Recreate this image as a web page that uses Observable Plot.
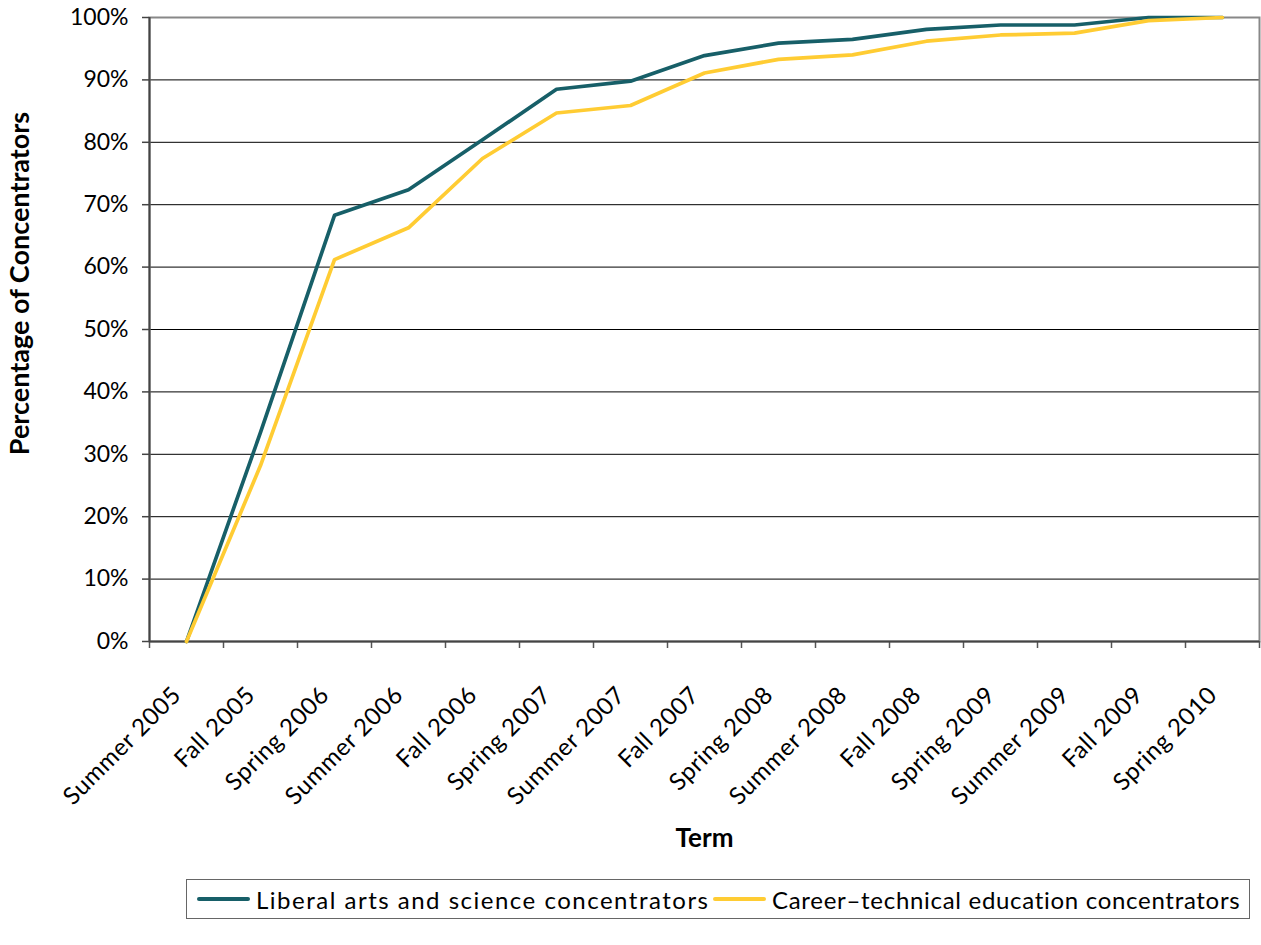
<!DOCTYPE html>
<html><head><meta charset="utf-8">
<script src="https://cdn.jsdelivr.net/npm/d3@7"></script>
<script src="https://cdn.jsdelivr.net/npm/@observablehq/plot@0.6"></script>
<style>
body{margin:0;background:#fff;font-family:Lato,"Open Sans",sans-serif;}
#wrap{position:relative;width:1261px;height:945px;overflow:hidden;}
#legend{position:absolute;left:186px;top:879px;width:1064px;height:40px;border:1px solid #666;box-sizing:border-box;font-size:24px;color:#000;}
.item{position:absolute;top:0;height:38px;display:flex;align-items:center;white-space:nowrap;}
.swatch{display:inline-block;width:53px;height:4px;border-radius:2px;margin-right:6px;}
</style></head><body>
<div id="wrap"><div id="chart"></div><div id="legend"></div></div>
<script>
const terms = ["Summer 2005","Fall 2005","Spring 2006","Summer 2006","Fall 2006","Spring 2007","Summer 2007","Fall 2007","Spring 2008","Summer 2008","Fall 2008","Spring 2009","Summer 2009","Fall 2009","Spring 2010"];
const liberalArts = [0, 33.5, 68.3, 72.4, 80.4, 88.5, 89.8, 93.9, 95.9, 96.5, 98.1, 98.8, 98.8, 100, 100];
const careerTech  = [0, 28.2, 61.2, 66.3, 77.4, 84.7, 85.9, 91.1, 93.3, 94.0, 96.2, 97.2, 97.5, 99.5, 100];
const seriesNames = ["Liberal arts and science concentrators", "Career\u2013technical education concentrators"];
const seriesColors = ["#175F68", "#FFCC33"];
const yTicks = [0,10,20,30,40,50,60,70,80,90,100];

const libData = terms.map((t,i)=>({term:t, idx:i, series:seriesNames[0], value:liberalArts[i]}));
const cteData = terms.map((t,i)=>({term:t, idx:i, series:seriesNames[1], value:careerTech[i]}));
const boundaries = d3.range(terms.length + 1);

const chart = Plot.plot({
  width: 1261, height: 870,
  marginLeft: 149, marginRight: 2, marginTop: 17, marginBottom: 229,
  style: {fontFamily: "Lato, 'Open Sans', sans-serif", fontSize: "23px", color: "#000", background: "#fff"},
  x: {type: "linear", domain: [0, terms.length]},
  y: {domain: [0, 100]},
  color: {domain: seriesNames, range: seriesColors},
  marks: [
    Plot.gridY(yTicks, {stroke: "#000", strokeOpacity: 1, strokeWidth: 1}),
    Plot.frame({stroke: "#888", strokeWidth: 2}),
    Plot.axisY(yTicks, {tickSize: 7, tickPadding: 14, tickFormat: d => d + "%", fontSize: 23, label: null, stroke: "#444", strokeWidth: 1.5}),
    Plot.axisX(boundaries, {tickSize: 7, tickFormat: () => "", label: null, stroke: "#555", strokeWidth: 1.5}),
    Plot.ruleX([0], {stroke: "#444", strokeWidth: 2}),
    Plot.ruleY([0], {stroke: "#444", strokeWidth: 2}),
    Plot.line(libData, {x: d => d.idx + 0.5, y: "value", stroke: "series", strokeWidth: 3.7}),
    Plot.line(cteData, {x: d => d.idx + 0.5, y: "value", stroke: "series", strokeWidth: 3.7}),
    Plot.text(terms, {x: (d,i) => i + 0.5, frameAnchor: "bottom", rotate: -45, textAnchor: "end", lineAnchor: "top", dx: -16, dy: 43, fontSize: 24, fill: "#000"}),
    Plot.text(["Term"], {frameAnchor: "bottom", dy: 205, fontWeight: "bold", fontSize: 26, fill: "#000"}),
    Plot.text(["Percentage of Concentrators"], {frameAnchor: "left", textAnchor: "middle", dx: -129, dy: -46, rotate: -90, fontWeight: "bold", fontSize: 27, fill: "#000"})
  ]
});
document.getElementById("chart").appendChild(chart);
// Slightly wider letter spacing, as in the original rendering of the term labels
d3.select(chart).selectAll("text").filter(function(){ return terms.includes(this.textContent); }).style("letter-spacing", "0.6px");

const legend = document.getElementById("legend");
const offsets = [10, 526];
const spacing = ["1.5px", "0.7px"];
seriesNames.forEach((name, k) => {
  const item = document.createElement("div");
  item.className = "item";
  item.style.left = offsets[k] + "px";
  const sw = document.createElement("span");
  sw.className = "swatch";
  sw.style.background = seriesColors[k];
  const label = document.createElement("span");
  label.textContent = name;
  label.style.letterSpacing = spacing[k];
  item.appendChild(sw); item.appendChild(label);
  legend.appendChild(item);
});
</script>
</body></html>
